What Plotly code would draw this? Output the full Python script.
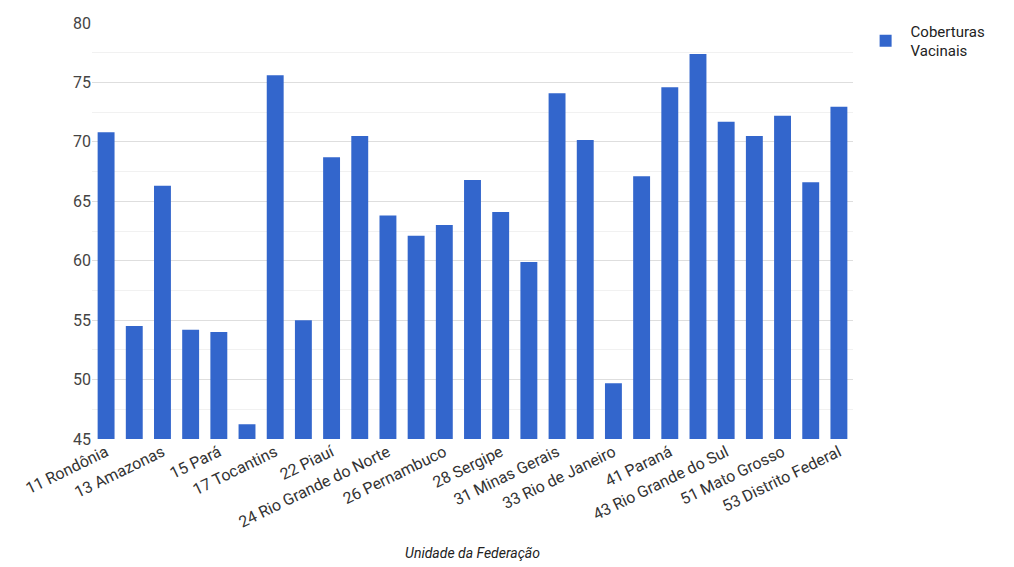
import plotly.graph_objects as go

categories = [
    "11 Rondônia", "12 Acre", "13 Amazonas", "14 Roraima", "15 Pará", "16 Amapá",
    "17 Tocantins", "21 Maranhão", "22 Piauí", "23 Ceará", "24 Rio Grande do Norte",
    "25 Paraíba", "26 Pernambuco", "27 Alagoas", "28 Sergipe", "29 Bahia",
    "31 Minas Gerais", "32 Espírito Santo", "33 Rio de Janeiro", "35 São Paulo",
    "41 Paraná", "42 Santa Catarina", "43 Rio Grande do Sul", "50 Mato Grosso do Sul",
    "51 Mato Grosso", "52 Goiás", "53 Distrito Federal",
]
coberturas = [
    70.8, 54.5, 66.3, 54.2, 54.0, 46.25,
    75.6, 55.0, 68.7, 70.5, 63.8,
    62.1, 63.0, 66.8, 64.1, 59.9,
    74.1, 70.15, 49.7, 67.1,
    74.6, 77.4, 71.7, 70.5,
    72.2, 66.6, 72.95,
]
shown_ticks = categories[::2]
y_ticks = [45, 50, 55, 60, 65, 70, 75, 80]

fig = go.Figure()
fig.add_trace(go.Bar(
    x=categories, y=coberturas, name="Coberturas<br>Vacinais",
    marker=dict(color="#3366cc", line=dict(width=0)),
))

fig.update_layout(
    width=1014, height=567,
    margin=dict(l=92, r=161, t=23, b=128, autoexpand=False),
    paper_bgcolor="white", plot_bgcolor="white",
    font=dict(family="Roboto, Arial, sans-serif", color="#444"),
    bargap=0.4,
    showlegend=True,
    legend=dict(x=1.01, y=1.02, xanchor="left", yanchor="top",
                font=dict(size=15, color="#222"), itemwidth=40,
                bgcolor="rgba(0,0,0,0)"),
    xaxis=dict(
        type="category",
        tickmode="array", tickvals=shown_ticks, ticktext=shown_ticks,
        tickangle=-26, tickfont=dict(size=16, color="#333"),
        showgrid=False, showline=False, ticks="",
        title=dict(text="<i>Unidade da Federação</i>", font=dict(size=14, color="#222"),
                   standoff=17),
    ),
    yaxis=dict(
        range=[45, 80], tickvals=y_ticks,
        tickfont=dict(size=16, color="#444"),
        showgrid=True, gridcolor="#dedede", gridwidth=1,
        zeroline=False, showline=False, ticks="",
        minor=dict(dtick=2.5, tick0=45, showgrid=True, gridcolor="#f1f1f1"),
    ),
)

fig.write_html("out.html")
